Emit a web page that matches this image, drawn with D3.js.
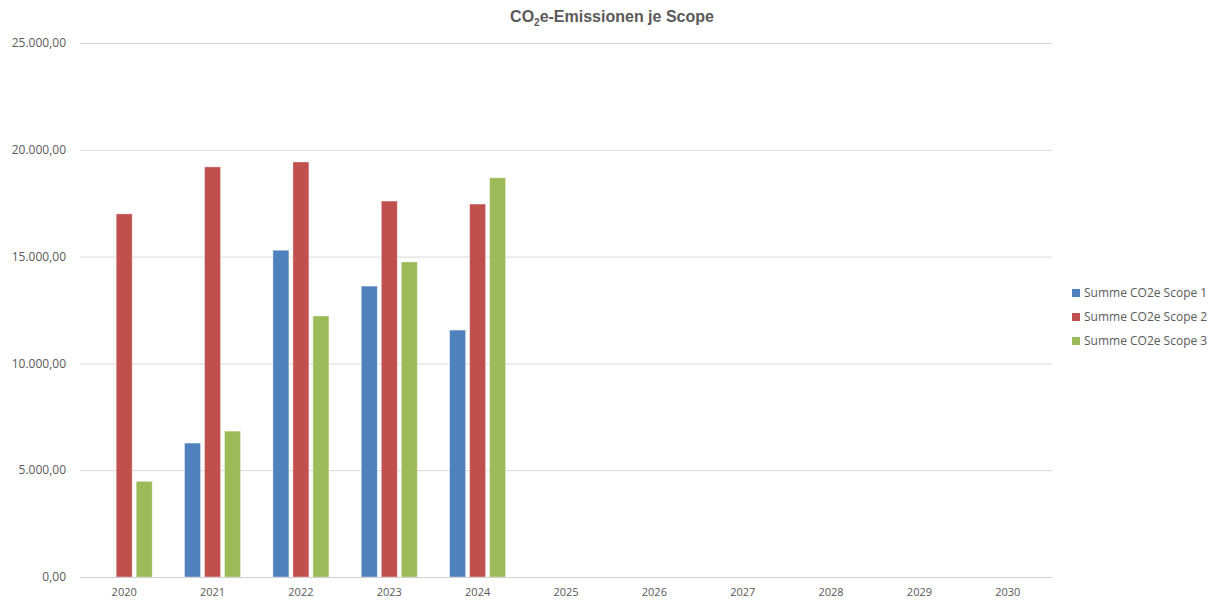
<!DOCTYPE html>
<html>
<head>
<meta charset="utf-8">
<script src="https://cdn.jsdelivr.net/npm/d3@7"></script>
<style>
  body { margin: 0; background: #fff; }
  text { font-family: "Open Sans", "Liberation Sans", sans-serif; fill: #595959; }
</style>
</head>
<body>
<div id="main"></div>
<script>
const years = ['2020', '2021', '2022', '2023', '2024', '2025', '2026', '2027', '2028', '2029', '2030']
const seriesNames = ['Summe CO2e Scope 1', 'Summe CO2e Scope 2', 'Summe CO2e Scope 3']
const scope1 = [0, 6270, 15300, 13620, 11560, null, null, null, null, null, null]
const scope2 = [17000, 19200, 19430, 17600, 17460, null, null, null, null, null, null]
const scope3 = [4480, 6830, 12220, 14750, 18690, null, null, null, null, null, null]
const yTicks = [0, 5000, 10000, 15000, 20000, 25000]
const colors = ['#4F81BD', '#C0504D', '#9BBB59']

const w = 1224, h = 601
const plotLeft = 80, plotRight = 1052, plotTop = 43, plotBottom = 577

const svg = d3.select('#main')
    .append('svg')
    .attr('width', w)
    .attr('height', h)

const xScale = d3.scaleBand()
    .domain(years)
    .range([plotLeft, plotRight])
    .paddingInner(0)

const barScale = d3.scaleBand()
    .domain(seriesNames)
    .range([0, 56])
    .paddingInner(0.2)

const yScale = d3.scaleLinear()
    .domain([0, 25000])
    .range([plotBottom, plotTop])

const fmt = d3.formatLocale({decimal: ',', thousands: '.', grouping: [3], currency: ['', '€']}).format(',.2f')

// grid
svg.append('g')
    .selectAll('line')
    .data(yTicks.slice(1))
    .enter()
    .append('line')
    .attr('x1', plotLeft)
    .attr('x2', plotRight)
    .attr('y1', d => yScale(d) + 0.5)
    .attr('y2', d => yScale(d) + 0.5)
    .attr('stroke', '#d9d9d9')

// y labels
svg.append('g')
    .selectAll('text')
    .data(yTicks)
    .enter()
    .append('text')
    .attr('x', 66)
    .attr('y', d => yScale(d))
    .attr('dy', '0.35em')
    .attr('text-anchor', 'end')
    .style('font-size', '12px')
    .text(d => fmt(d))

// bars
const series = [scope1, scope2, scope3]
series.forEach((vals, si) => {
    svg.append('g')
        .selectAll('rect')
        .data(vals.map((v, i) => ({year: years[i], v})).filter(d => d.v))
        .enter()
        .append('rect')
        .attr('x', d => xScale(d.year) + xScale.bandwidth() / 2 - 28 + barScale(seriesNames[si]))
        .attr('width', barScale.bandwidth())
        .attr('y', d => yScale(d.v))
        .attr('height', d => yScale(0) - yScale(d.v))
        .attr('fill', colors[si])
        .attr('stroke', '#ffffff')
        .attr('stroke-opacity', 0.5)
        .attr('stroke-width', 0.75)
})

// baseline
svg.append('line')
    .attr('x1', plotLeft)
    .attr('x2', plotRight)
    .attr('y1', plotBottom + 0.5)
    .attr('y2', plotBottom + 0.5)
    .attr('stroke', '#d0d0d0')

// x labels
svg.append('g')
    .selectAll('text')
    .data(years)
    .enter()
    .append('text')
    .attr('x', d => xScale(d) + xScale.bandwidth() / 2)
    .attr('y', 596)
    .attr('text-anchor', 'middle')
    .style('font-size', '11px')
    .text(d => d)

// title
const title = svg.append('text')
    .attr('x', 612)
    .attr('y', 22)
    .attr('text-anchor', 'middle')
    .style('font-family', '"Liberation Sans", Arial, sans-serif')
    .style('font-size', '16px')
    .style('font-weight', 'bold')
title.append('tspan').text('CO')
title.append('tspan').text('2').attr('dy', 4).style('font-size', '10px')
title.append('tspan').text('e-Emissionen je Scope').attr('dy', -4)

// legend
const legend = svg.append('g').attr('id', 'legend')
seriesNames.forEach((name, i) => {
    legend.append('rect')
        .attr('x', 1072)
        .attr('y', 289 + i * 24)
        .attr('width', 8)
        .attr('height', 8)
        .attr('fill', colors[i])
    legend.append('text')
        .attr('x', 1084)
        .attr('y', 293 + i * 24)
        .attr('dy', '0.35em')
        .style('font-size', '12px')
        .text(name)
})
</script>
</body>
</html>
